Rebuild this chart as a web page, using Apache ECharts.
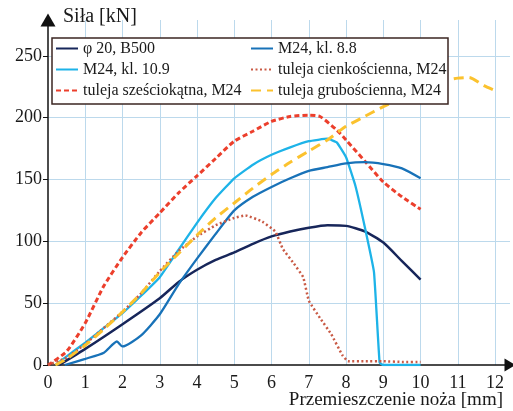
<!DOCTYPE html>
<html><head><meta charset="utf-8">
<script src="https://cdn.jsdelivr.net/npm/echarts@6/dist/echarts.min.js"></script>
<style>html,body{margin:0;padding:0;background:#fff}#c{width:513px;height:411px}</style>
</head><body><div id="c"></div>
<script>
const seriesNames = ['\u03c6 20, B500','M24, kl. 10.9','tuleja sze\u015bciok\u0105tna, M24','M24, kl. 8.8','tuleja cienko\u015bcienna, M24','tuleja grubo\u015bcienna, M24'];
const xTicks = [0,1,2,3,4,5,6,7,8,9,10,11,12];
const yTicks = [0,50,100,150,200,250];
const b500 = [[0.3,0],[1,13],[2,33],[3,54],[3.5,67],[4,77],[4.5,85],[5,91],[5.5,98],[6,104],[6.5,108],[7,111],[7.5,113],[8,112.5],[8.5,108],[9,99],[9.5,84],[10,69]];
const m24_88 = [[0.45,0],[1,5],[1.5,10],[1.85,19],[2.0,15],[2.5,24],[3,41],[3.5,65],[4,86],[4.5,106],[5,125],[5.5,136],[6,144],[6.5,151],[7,157],[7.5,160],[8,163],[8.5,164],[9,162.5],[9.5,159],[10,151]];
const m24_109 = [[0.2,0],[0.5,7],[1,18],[1.5,30],[2,42],[2.5,56],[3,71],[3.5,93],[4,115],[4.5,135],[5,151],[5.5,162],[6,170],[6.5,176],[7,181],[7.5,183],[7.75,180],[8,168],[8.25,145],[8.5,112],[8.75,75],[8.9,2],[9,0],[10,0]];
const hexSleeve = [[0,0],[0.5,11],[1,34],[1.5,64],[2,87],[2.5,107],[3,123],[3.5,139],[4,153],[4.5,167],[5,181],[5.5,189],[6,197],[6.5,201],[7,202],[7.3,201],[7.75,190],[8,182],[8.5,165],[9,148],[9.5,136],[10,126]];
const thinSleeve = [[0,0],[0.5,6],[1,17],[1.5,30],[2,43],[2.5,58],[3,76],[3.5,92],[4,104],[4.5,113],[5,119],[5.3,121],[5.75,116],[6.1,108],[6.3,94],[6.6,82],[6.85,71],[7.0,52],[7.3,38],[7.6,25],[7.9,8],[8.05,3],[8.5,3],[9,3],[9.5,2.5],[10,2.5]];
const thickSleeve = [[0.2,0],[0.5,5],[1,16],[1.5,29],[2,43],[2.5,58],[3,75],[3.5,90],[4,105],[4.5,119],[5,131],[5.5,143],[6,154],[6.5,164],[7,173],[7.5,182],[8,193],[8.5,201],[9,209],[9.5,216],[10,223],[10.5,229],[11,232],[11.3,232.5],[11.7,226],[12,222]];

const FONT = 'Liberation Serif';
const chart = echarts.init(document.getElementById('c'), null, {renderer:'canvas'});
const base = {type:'line', showSymbol:false, symbol:'none', smooth:0.2, z:2};
const legendCommon = {orient:'vertical', padding:0, itemWidth:22, itemHeight:14, itemGap:4, z:5,
  itemStyle:{opacity:0},
  textStyle:{fontFamily:FONT, fontSize:16, color:'#1a1a1a', lineHeight:17}};
chart.setOption({
  animation:false,
  backgroundColor:'#fff',
  title:[
    {text:'Si\u0142a [kN]', left:63, top:7, padding:0, textStyle:{fontFamily:FONT, fontSize:20, fontWeight:'normal', color:'#1a1a1a'}},
    {text:'Przemieszczenie no\u017ca [mm]', right:10, top:391, padding:0, textStyle:{fontFamily:FONT, fontSize:19, fontWeight:'normal', color:'#1a1a1a'}}
  ],
  grid:{left:48, right:3, top:20, bottom:46, containLabel:false},
  xAxis:{type:'value', min:xTicks[0], max:12.4, interval:1,
    axisLine:{lineStyle:{color:'#111', width:1.5}, symbol:['none','triangle'], symbolSize:[13,11]},
    axisTick:{show:false},
    axisLabel:{fontFamily:FONT, fontSize:18, color:'#1a1a1a', margin:9, showMaxLabel:false},
    splitLine:{show:true, showMinLine:false, showMaxLine:false, lineStyle:{color:'#bcd9ec', width:1}}
  },
  yAxis:{type:'value', min:yTicks[0], max:279, interval:50,
    axisLine:{lineStyle:{color:'#111', width:1.5}, symbol:['none','triangle'], symbolSize:[15,13]},
    axisTick:{show:true, length:5, lineStyle:{color:'#111'}},
    axisLabel:{fontFamily:FONT, fontSize:18, color:'#1a1a1a', margin:6, showMaxLabel:false},
    splitLine:{show:true, showMinLine:false, showMaxLine:false, lineStyle:{color:'#bcd9ec', width:1}}
  },
  graphic:[{type:'rect', z:3, shape:{x:52, y:38, width:396, height:66}, style:{fill:'#fff', stroke:'#3b2622', lineWidth:1.5}}],
  legend:[
    Object.assign({}, legendCommon, {left:55, top:40, data:[seriesNames[0], seriesNames[1], seriesNames[2]]}),
    Object.assign({}, legendCommon, {left:250, top:40, data:[seriesNames[3], seriesNames[4], seriesNames[5]]})
  ],
  series:[
    Object.assign({}, base, {name:seriesNames[0], data:b500, color:'#17265a', lineStyle:{color:'#17265a', width:2.5}}),
    Object.assign({}, base, {name:seriesNames[1], data:m24_109, smooth:0.1, color:'#1db3e8', lineStyle:{color:'#1db3e8', width:2.3}}),
    Object.assign({}, base, {name:seriesNames[2], data:hexSleeve, color:'#ec3f2c', lineStyle:{color:'#ec3f2c', width:3, type:[5,3]}}),
    Object.assign({}, base, {name:seriesNames[3], data:m24_88, color:'#1872b8', lineStyle:{color:'#1872b8', width:2.3}}),
    Object.assign({}, base, {name:seriesNames[4], data:thinSleeve, smooth:0.1, color:'#c95a45', lineStyle:{color:'#c95a45', width:2.5, type:[2,2.5]}}),
    Object.assign({}, base, {name:seriesNames[5], data:thickSleeve, color:'#fbc22e', lineStyle:{color:'#fbc22e', width:3, type:[10,6]}})
  ]
});
</script></body></html>
